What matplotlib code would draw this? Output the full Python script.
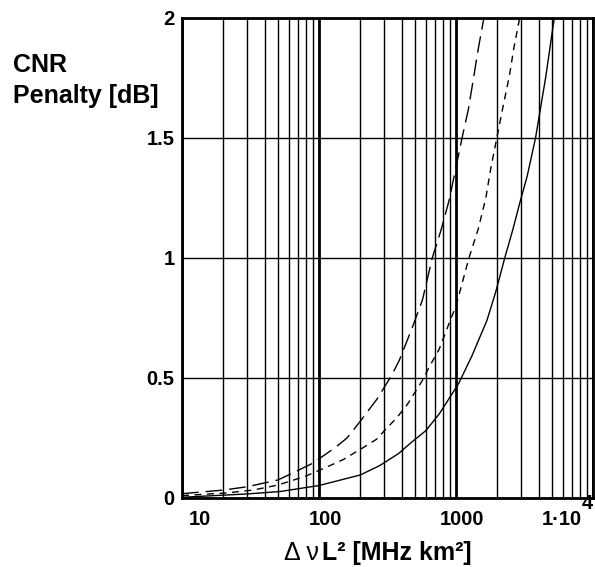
import matplotlib.pyplot as plt
import matplotlib.transforms as mtransforms
from matplotlib.ticker import FixedLocator, LogLocator, NullFormatter

plt.rcParams['font.family'] = ['Liberation Sans', 'DejaVu Sans']

# penalty curves, x = delta nu * L^2 [MHz km^2], y = CNR penalty [dB]
x_long = [10, 20, 30, 50, 62, 90, 131, 160, 200, 263, 338, 386, 479, 568, 670, 780, 889,
          1000, 1105, 1230, 1350, 1450, 1596]
y_long = [0.018, 0.033, 0.047, 0.075, 0.10, 0.145, 0.21, 0.25, 0.32, 0.41, 0.51, 0.575, 0.71,
          0.825, 1.0, 1.12, 1.24, 1.38, 1.5, 1.62, 1.76, 1.87, 2.0]

x_short = [10, 21, 33, 50, 79, 105, 150, 210, 263, 305, 370, 441, 513, 568, 637, 753, 920,
           1000, 1050, 1241, 1450, 1648, 1800, 1983, 2200, 2450, 2650, 2913]
y_short = [0.01, 0.021, 0.033, 0.054, 0.09, 0.12, 0.16, 0.21, 0.245, 0.285, 0.335, 0.39,
           0.45, 0.49, 0.546, 0.62, 0.75, 0.80, 0.846, 1.0, 1.12, 1.25, 1.38, 1.5, 1.63,
           1.76, 1.88, 2.0]

x_solid = [10, 30, 52, 100, 200, 277, 380, 479, 600, 753, 1000, 1050, 1300, 1680, 1950,
           2265, 2600, 2950, 3300, 3800, 4500, 5210]
y_solid = [0.003, 0.017, 0.027, 0.052, 0.096, 0.135, 0.185, 0.235, 0.28, 0.35, 0.46, 0.48,
           0.59, 0.74, 0.86, 1.0, 1.12, 1.24, 1.34, 1.5, 1.75, 2.0]

x_ticks = [10, 100, 1000, 10000]
x_tick_labels = ['10', '100', '1000', '1·10']
x_label_shift = [7, 6, 6, -11]   # pixels
y_ticks = [0, 0.5, 1, 1.5, 2]
y_tick_labels = ['0', '0.5', '1', '1.5', '2']

fig = plt.figure(figsize=(5.95, 5.67), dpi=100)
ax = fig.add_axes([0.306, 0.1217, 0.6908, 0.8466])

ax.set_xscale('log')
ax.set_xlim(10, 10000)
ax.set_ylim(0, 2)

# grid: every 1..9 on the log axis, thicker at the decades
ax.xaxis.set_major_locator(FixedLocator(x_ticks))
ax.xaxis.set_minor_locator(LogLocator(base=10, subs=range(2, 10)))
ax.xaxis.set_minor_formatter(NullFormatter())
ax.grid(which='minor', axis='x', color='black', linewidth=1.0)
ax.grid(which='major', axis='x', color='black', linewidth=2.0)
ax.grid(which='major', axis='y', color='black', linewidth=1.0)
ax.set_axisbelow(True)

ax.plot(x_long, y_long, color='black', linewidth=1.0, dashes=(12, 5))
ax.plot(x_short, y_short, color='black', linewidth=1.0, dashes=(5, 4))
ax.plot(x_solid, y_solid, color='black', linewidth=1.0)

for s in ax.spines.values():
    s.set_linewidth(2.0)

ax.set_yticks(y_ticks)
ax.set_yticklabels(y_tick_labels, fontsize=14.5, fontweight='bold')
ax.set_xticklabels(x_tick_labels, fontsize=14.5, fontweight='bold')
ax.tick_params(which='both', length=0)
ax.tick_params(axis='y', pad=5.5)
ax.tick_params(axis='x', pad=9)

labels = ax.get_xticklabels()
for lab, dx in zip(labels, x_label_shift):
    lab.set_transform(lab.get_transform()
                      + mtransforms.ScaledTranslation(dx / 100, 0, fig.dpi_scale_trans))
labels[0].set_horizontalalignment('left')
labels[-1].set_horizontalalignment('right')
# exponent of the last label, full size and raised
ax.annotate('4', xy=(10000, 0), xycoords='data', xytext=(0, 3), textcoords='offset points',
            ha='right', va='top', fontsize=14.5, fontweight='bold', annotation_clip=False)

fig.text(319 / 595, 1 - 560 / 567, 'Δ ν', fontsize=18, ha='right', va='baseline')
fig.text(322 / 595, 1 - 560 / 567, 'L² [MHz km²]', fontsize=18, fontweight='bold',
         ha='left', va='baseline')
fig.text(13 / 595, 1 - 72 / 567, 'CNR', fontsize=18, fontweight='bold', ha='left', va='baseline')
fig.text(13 / 595, 1 - 103 / 567, 'Penalty [dB]', fontsize=18, fontweight='bold',
         ha='left', va='baseline')

fig.savefig('out.png', dpi=100)
